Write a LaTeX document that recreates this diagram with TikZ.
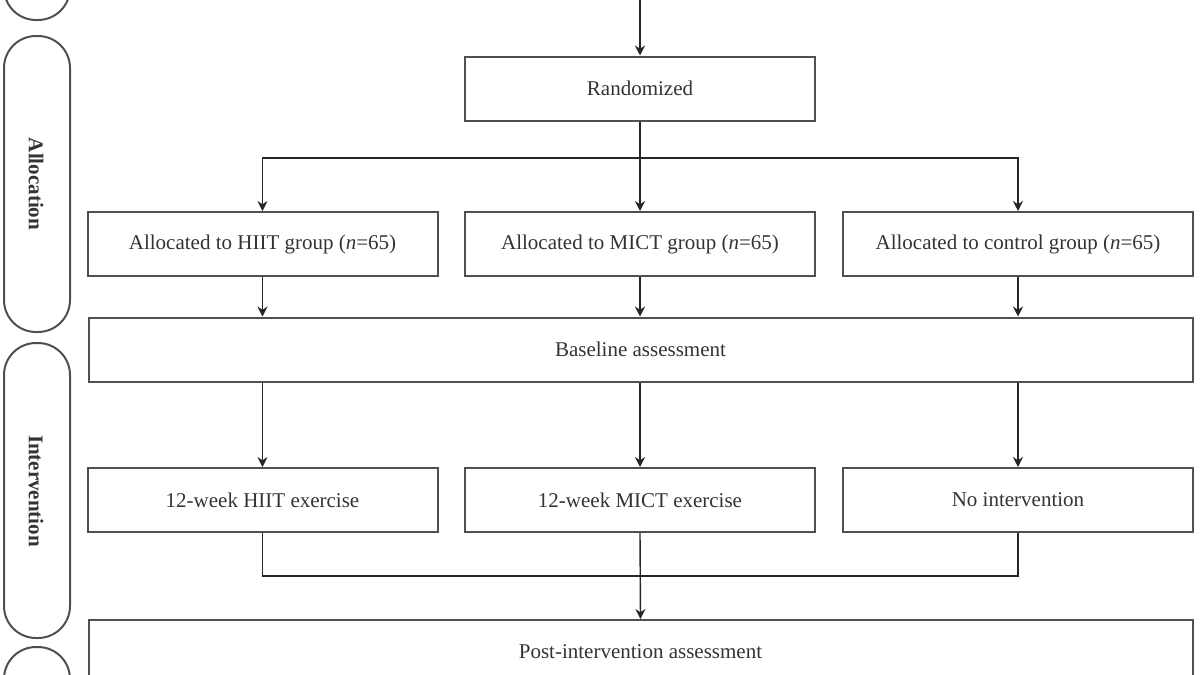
\documentclass[tikz,border=0pt]{standalone}
\usepackage{fontspec}
\setmainfont{Liberation Serif}
\usetikzlibrary{arrows.meta}
\definecolor{boxline}{HTML}{505050}
\definecolor{txt}{HTML}{333333}
\tikzset{
  flowbox/.style={draw=boxline, line width=1pt, minimum width=175pt, minimum height=32pt, inner sep=0pt, text=txt, font=\fontsize{10.5}{12}\selectfont},
  widebox/.style={flowbox, minimum width=552pt},
  phase/.style={draw=boxline, line width=1pt, rounded corners=16pt},
  phaselabel/.style={rotate=-90, text=txt, font=\bfseries\fontsize{10.5}{12}\selectfont},
  conn/.style={draw=black!85, line width=0.7pt},
  arr/.style={conn, -{Stealth[length=5pt,width=5pt]}}
}
\begin{document}
\begin{tikzpicture}[x=0.5pt,y=-0.5pt]
\useasboundingbox (0,0) rectangle (1200,675);
\clip (0,0) rectangle (1200,675);
% phase pills
\draw[phase] (4,-300) rectangle (70,20);
\draw[phase] (4,36) rectangle (70,332);
\draw[phase] (4,343) rectangle (70,638);
\draw[phase] (4,647) rectangle (70,960);
\node[phaselabel] (lalloc) at (36,184) {Allocation};
\node[phaselabel] (linterv) at (36,491) {Intervention};
% boxes
\coordinate (top) at (640,0);
\node[flowbox] (rand) at (640,88.5) {Randomized};
\node[flowbox] (hiit) at (262.5,244) {Allocated to HIIT group (\textit{n}=65)};
\node[flowbox] (mict) at (640,244) {Allocated to MICT group (\textit{n}=65)};
\node[flowbox] (ctrl) at (1018,244) {Allocated to control group (\textit{n}=65)};
\node[widebox] (base) at (640.5,349.5) {Baseline assessment};
\node[flowbox] (ex1) at (262.5,500) {12-week HIIT exercise};
\node[flowbox] (ex2) at (640,500) {12-week MICT exercise};
\node[flowbox] (ex3) at (1018,500) {No intervention};
\node[widebox] (post) at (640.5,652) {Post-intervention assessment};
% connectors
\draw[arr] (top) -- (rand.north);
\coordinate (split) at (640,158);
\draw[conn] (rand.south) -- (split);
\draw[arr] (split) -- (mict.north);
\draw[arr] (split) -| (hiit.north);
\draw[arr] (split) -| (ctrl.north);
\draw[arr] (hiit.south) -- (hiit.south |- base.north);
\draw[arr] (mict.south) -- (mict.south |- base.north);
\draw[arr] (ctrl.south) -- (ctrl.south |- base.north);
\draw[arr] (hiit.south |- base.south) -- (ex1.north);
\draw[arr] (mict.south |- base.south) -- (ex2.north);
\draw[arr] (ctrl.south |- base.south) -- (ex3.north);
\coordinate (merge) at (640,576);
\draw[conn] (ex1.south) |- (merge);
\draw[conn] (ex3.south) |- (merge);
\draw[arr] (ex2.south) -- (post.north);
\end{tikzpicture}
\end{document}
